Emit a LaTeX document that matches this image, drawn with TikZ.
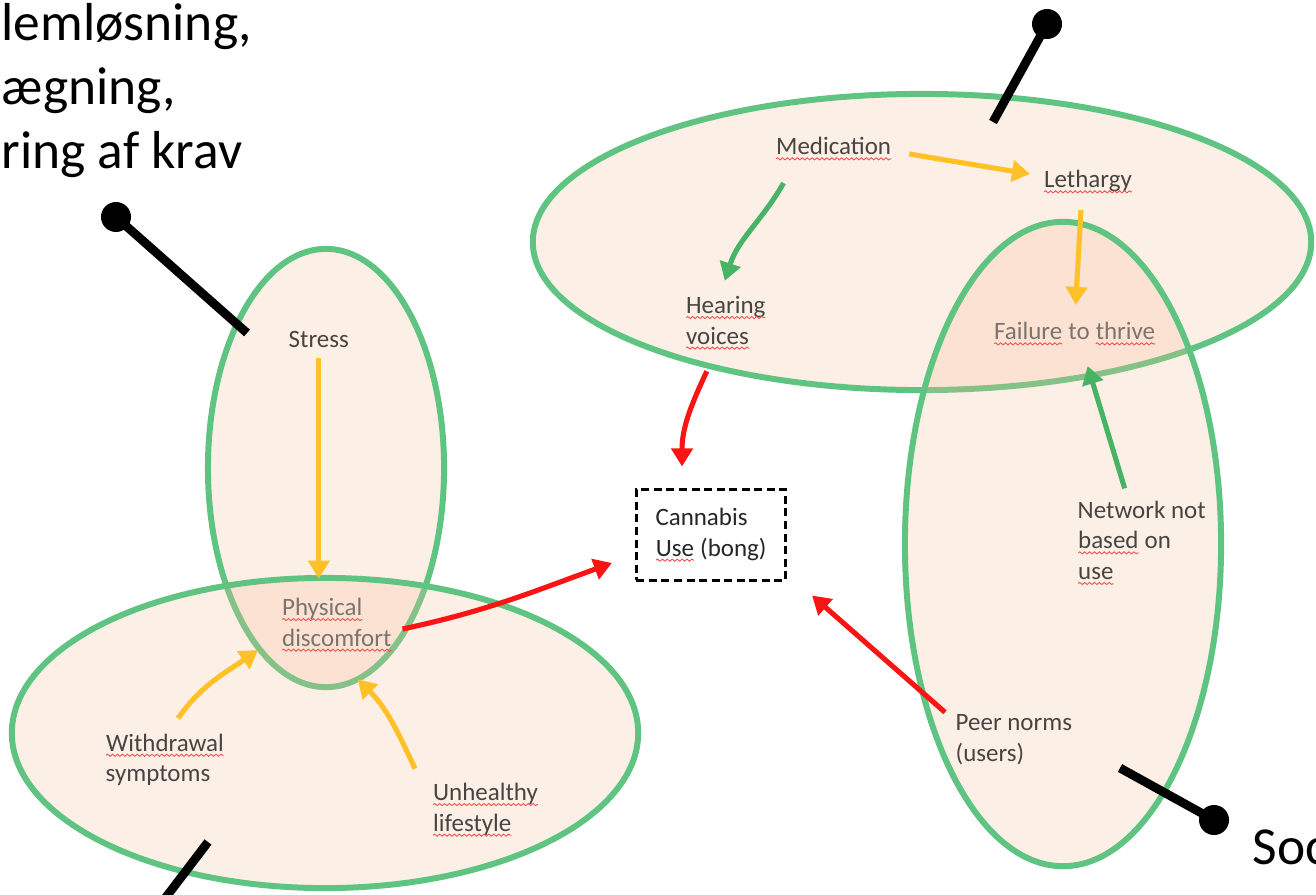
\documentclass[tikz,border=0pt]{standalone}
\usepackage{fontspec}
\setmainfont{Carlito}
\usetikzlibrary{arrows.meta,decorations.pathmorphing}
\definecolor{blobline}{RGB}{95,196,130}
\definecolor{blobfill}{RGB}{245,190,155}
\definecolor{txtgray}{RGB}{72,68,66}
\definecolor{dimgray}{RGB}{125,115,110}
\definecolor{arrowyellow}{RGB}{255,192,40}
\definecolor{arrowgreen}{RGB}{70,180,100}
\definecolor{arrowred}{RGB}{250,20,20}
\definecolor{sqred}{RGB}{240,80,80}
\newcommand{\lblfont}{\fontsize{7.1pt}{8.7pt}\selectfont}
\newcommand{\bigfont}{\fontsize{15.2pt}{18.1pt}\selectfont}
% word with a wavy spelling mark under it
\newcommand{\sq}[2][txtgray]{\tikz[baseline=(w.base)]{\node[inner sep=0pt, outer sep=0pt, draw=none, minimum width=0pt,
    minimum height=0pt, text=#1] (w) {#2};
  \draw[sqred, solid, line width=0.25pt, decorate, decoration={snake, amplitude=0.3pt, segment length=1.4pt}]
    ([yshift=-1.1pt]w.base west) -- ([yshift=-1.1pt]w.base east);}}
\tikzset{
  blob/.style={draw=blobline, line width=1.7pt, fill=blobfill, fill opacity=0.25},
  lbl/.style={font=\lblfont, text=txtgray, align=left, inner sep=0pt, anchor=west},
  yarrow/.style={draw=arrowyellow, line width=1.45pt, -{Triangle[length=0.18cm, width=0.21cm]}},
  garrow/.style={yarrow, draw=arrowgreen},
  rarrow/.style={yarrow, draw=arrowred},
  pin/.style={line width=2.5pt, black},
}
\begin{document}
\begin{tikzpicture}[x=0.01cm, y=-0.01cm]
  \clip (0,0) rectangle (1316,894) ;

  %Draw the four groups
  \draw[blob] (326,468) ellipse [x radius=1.18cm, y radius=2.19cm] ;
  \draw[blob] (325,733) ellipse [x radius=3.13cm, y radius=1.55cm] ;
  \draw[blob] (922,242) ellipse [x radius=3.89cm, y radius=1.48cm] ;
  \draw[blob] (1063,544) ellipse [x radius=1.58cm, y radius=3.22cm] ;

  %Draw pins
  \draw[pin] (247,333) -- (116,217) ; \fill (116,217) circle (0.15cm) ;
  \draw[pin] (993,122) -- (1047,24) ; \fill (1047,24) circle (0.15cm) ;
  \draw[pin] (1120,768) -- (1214,820) ; \fill (1214,820) circle (0.15cm) ;
  \draw[pin] (208,842) -- (160,905) ;

  %Draw big captions
  \node[font=\bigfont, align=left, inner sep=0pt, anchor=north west] (demands) at (1,3) {lemløsning,\\ægning,\\ring af krav} ;
  \node[font=\bigfont, inner sep=0pt, anchor=base west] (soc) at (1252,864) {Soc} ;

  %Draw labels
  \node[lbl] (stress) at (288,339) {Stress} ;
  \node[lbl, text=dimgray] (phys) at (281,625) {\sq[dimgray]{Physical}\\\sq[dimgray]{discomfort}} ;
  \node[lbl] (wd) at (105,760) {\sq{Withdrawal}\\symptoms} ;
  \node[lbl] (unh) at (432,810) {\sq{Unhealthy}\\\sq{lifestyle}} ;
  \node[lbl] (med) at (775,149) {\sq{Medication}} ;
  \node[lbl] (leth) at (1043,182) {\sq{Lethargy}} ;
  \node[lbl] (hear) at (685,323) {\sq{Hearing}\\\sq{voices}} ;
  \node[lbl, text=dimgray] (fail) at (993,334) {\sq[dimgray]{Failure} to \sq[dimgray]{thrive}} ;
  \node[lbl] (net) at (1077,543) {Network not\\\sq{based} on\\\sq{use}} ;
  \node[lbl] (peer) at (955,740) {Peer norms\\(users)} ;
  \node[draw, dash pattern=on 0.08cm off 0.045cm, line width=0.85pt, minimum width=1.49cm, minimum height=0.9cm,
        align=left, font=\lblfont, text=black!85] (cann) at (711,535) {Cannabis\\\sq[black!85]{Use} (bong)} ;

  %Draw yellow arrows
  \draw[yarrow, shorten <=0.1cm, shorten >=0.19cm] (stress.south) -- (stress.south |- phys.north) ;
  \draw[yarrow] ([shift={(17,5)}]med.east) -- ([shift={(-13,-8)}]leth.west) ;
  \draw[yarrow] ([shift={(-7,16)}]leth.south) -- ([shift={(1,-17)}]fail.north) ;
  \draw[yarrow] ([shift={(13,-15)}]wd.north) to[out=55, in=215] ([shift={(-23,25)}]phys.west) ;
  \draw[yarrow] ([shift={(-17,-14)}]unh.north west) to[out=115, in=-45] ([shift={(21,27)}]phys.south) ;

  %Draw green arrows
  \draw[garrow] ([shift={(-50,22)}]med.south) to[out=-120, in=72] ([shift={(-1,-15)}]hear.north) ;
  \draw[garrow] ([shift={(-17,-12)}]net.north) -- ([shift={(13,20)}]fail.south) ;

  %Draw red arrows
  \draw[rarrow] ([shift={(-19,21)}]hear.south) to[out=-115, in=90] ([shift={(-29,-22)}]cann.north) ;
  \draw[rarrow] ([shift={(10,4)}]phys.east) to[out=12, in=200] ([shift={(-23,28)}]cann.west) ;
  \draw[rarrow] ([shift={(-10,-2)}]peer.north west) -- ([shift={(25,14)}]cann.south east) ;
\end{tikzpicture}
\end{document}
